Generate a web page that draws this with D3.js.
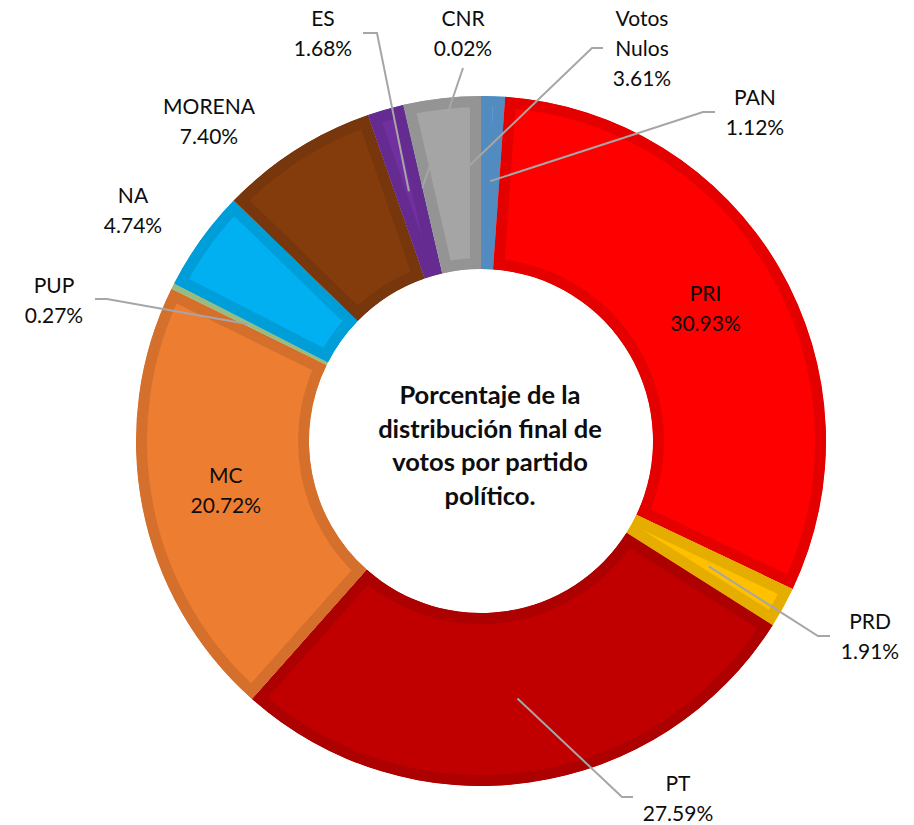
<!DOCTYPE html>
<html>
<head>
<meta charset="utf-8">
<script src="https://d3js.org/d3.v7.min.js"></script>
<style>
  body { margin: 0; background: #fff; }
  text { font-family: Lato, "Open Sans", sans-serif; fill: #0d0d0d; }
</style>
</head>
<body>
<div id="chart"></div>
<script>
// data, clockwise from 12 o'clock
const parties = ["PAN", "PRI", "PRD", "PT", "MC", "PUP", "NA", "MORENA", "ES", "CNR", "Votos Nulos"];
const shares = [1.12, 30.93, 1.91, 27.59, 20.72, 0.27, 4.74, 7.40, 1.68, 0.02, 3.61];
const colors = ["#5b9bd5", "#ff0000", "#ffc000", "#c00000", "#ed7d31", "#a9d18e", "#00b0f0", "#843c0c", "#7030a0", "#264478", "#a5a5a5"];
const title = ["Porcentaje de la", "distribución final de", "votos por partido", "político."];

// label placement (label x centre, first baseline, leader line start points)
const labelLayout = {
  "PAN":         {x: 755, y: 105, lead: [[715, 112], [703, 112]]},
  "PRI":         {inside: true},
  "PRD":         {x: 870, y: 629, lead: [[830, 636], [818, 636]]},
  "PT":          {x: 678, y: 791, lead: [[633, 797], [622, 797]]},
  "MC":          {inside: true},
  "PUP":         {x: 54,  y: 293, lead: [[95, 299], [107, 299]]},
  "NA":          {x: 133, y: 203},
  "MORENA":      {x: 209, y: 114},
  "ES":          {x: 323, y: 26,  lead: [[363, 33], [377, 33]]},
  "CNR":         {x: 463, y: 26,  lead: [[463, 68]]},
  "Votos Nulos": {x: 642, y: 26,  lead: [[603, 48], [592, 48]]}
};

const width = 914, height = 825;
const cx = 481, cy = 441, outerR = 345, innerR = 172, anchorR = 260;

const svg = d3.select("#chart").append("svg")
  .attr("width", width).attr("height", height);

const data = parties.map((p, i) => ({name: p, value: shares[i], color: colors[i]}));

const pie = d3.pie().value(d => d.value).sort(null);
const arc = d3.arc().innerRadius(innerR).outerRadius(outerR);
const arcs = pie(data);

const g = svg.append("g").attr("transform", `translate(${cx},${cy})`);
const defs = svg.append("defs");

defs.selectAll("clipPath").data(arcs).enter().append("clipPath")
  .attr("id", (d, i) => "clip" + i)
  .append("path").attr("d", arc);

// slices with an inner darker border
g.selectAll("path.slice").data(arcs).enter().append("path")
  .attr("class", "slice")
  .attr("d", arc)
  .attr("fill", d => d.data.color)
  .attr("stroke", d => d3.color(d.data.color).darker(0.3))
  .attr("stroke-width", 22)
  .attr("clip-path", (d, i) => `url(#clip${i})`);

function polar(angle, r) {
  return [cx + r * Math.sin(angle), cy - r * Math.cos(angle)];
}

const fmt = v => v.toFixed(2) + "%";

// labels
arcs.forEach(d => {
  const name = d.data.name;
  const lay = labelLayout[name];
  const mid = (d.startAngle + d.endAngle) / 2;
  let lines = name === "Votos Nulos" ? ["Votos", "Nulos"] : [name];
  lines = lines.concat([fmt(d.data.value)]);

  let x, y;
  if (lay.inside) {
    const p = polar(mid, anchorR);
    x = p[0];
    y = p[1] - (lines.length - 1) * 31 / 2 + 7;
  } else {
    x = lay.x; y = lay.y;
  }

  const t = svg.append("text")
    .attr("text-anchor", "middle")
    .attr("font-size", 21);
  lines.forEach((l, k) => {
    t.append("tspan").attr("x", x).attr("y", y + k * 30).text(l);
  });

  if (lay.lead) {
    const pts = lay.lead.concat([polar(mid, anchorR)]);
    svg.append("path")
      .attr("d", d3.line()(pts))
      .attr("fill", "none")
      .attr("stroke", "#a6a6a6")
      .attr("stroke-width", 2);
  }
});

// centre title
const tt = svg.append("text")
  .attr("text-anchor", "middle")
  .attr("font-size", 25.5)
  .attr("font-weight", "bold");
title.forEach((l, k) => {
  tt.append("tspan").attr("x", 490).attr("y", 404 + k * 33.5).text(l);
});
</script>
</body>
</html>
